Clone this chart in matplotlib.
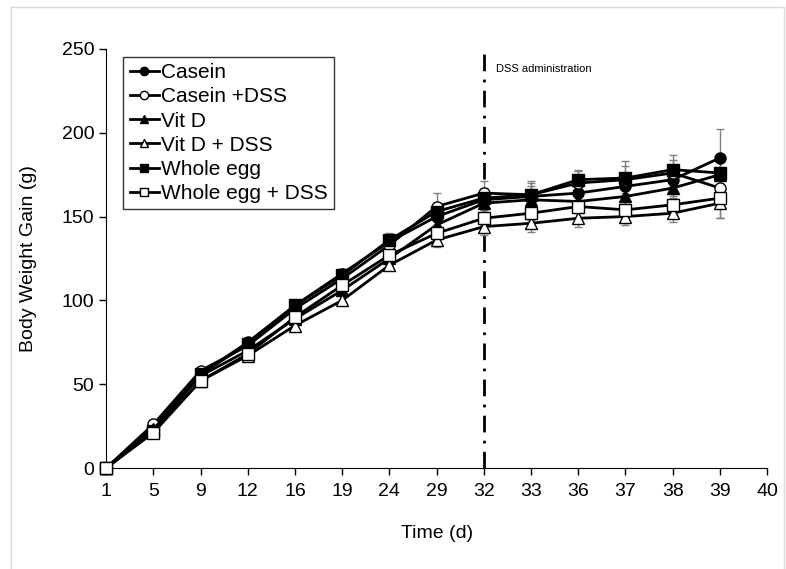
import matplotlib.pyplot as plt
import matplotlib.lines as mlines
import numpy as np

plt.rcParams['font.family'] = ['Liberation Sans', 'DejaVu Sans']

days = ['1', '5', '9', '12', '16', '19', '24', '29', '32', '33', '36', '37', '38', '39', '40']

casein = [0, 24, 56, 75, 97, 116, 135, 150, 160, 162, 164, 168, 172, 185]
casein_dss = [0, 26, 58, 73, 95, 113, 133, 156, 164, 163, 170, 172, 176, 167]
vitd = [0, 23, 55, 70, 89, 106, 125, 145, 158, 160, 159, 162, 167, 175]
vitd_dss = [0, 22, 52, 67, 85, 100, 121, 136, 144, 146, 149, 150, 152, 158]
whole_egg = [0, 22, 56, 74, 97, 115, 136, 153, 161, 163, 172, 173, 178, 176]
whole_egg_dss = [0, 21, 52, 68, 90, 109, 127, 140, 149, 152, 156, 154, 157, 161]

casein_err = [0, 2, 2, 2, 3, 3, 4, 6, 6, 6, 6, 7, 8, 17]
casein_dss_err = [0, 2, 2, 3, 3, 3, 4, 8, 7, 7, 7, 8, 8, 10]
vitd_err = [0, 2, 2, 2, 3, 3, 4, 5, 5, 5, 6, 6, 6, 8]
vitd_dss_err = [0, 2, 2, 2, 3, 3, 3, 4, 5, 5, 5, 5, 5, 9]
whole_egg_err = [0, 2, 2, 2, 3, 4, 4, 5, 6, 8, 6, 10, 9, 8]
whole_egg_dss_err = [0, 2, 2, 2, 3, 3, 3, 4, 4, 4, 4, 5, 5, 12]

series = [
    ("Casein", casein, casein_err, 'o', 'black'),
    ("Casein +DSS", casein_dss, casein_dss_err, 'o', 'white'),
    ("Vit D", vitd, vitd_err, '^', 'black'),
    ("Vit D + DSS", vitd_dss, vitd_dss_err, '^', 'white'),
    ("Whole egg", whole_egg, whole_egg_err, 's', 'black'),
    ("Whole egg + DSS", whole_egg_dss, whole_egg_dss_err, 's', 'white'),
]

fig = plt.figure(figsize=(7.86, 5.69), dpi=100)
ax = fig.add_axes([0.135, 0.1775, 0.841, 0.7365])

# light gray frame around the picture
fig.add_artist(mlines.Line2D([11/786, 11/786], [0, 1 - 7/569], color='#d9d9d9', lw=1))
fig.add_artist(mlines.Line2D([11/786, 784/786], [1 - 7/569, 1 - 7/569], color='#d9d9d9', lw=1))
fig.add_artist(mlines.Line2D([784/786, 784/786], [0, 1 - 7/569], color='#d9d9d9', lw=1))

x = np.arange(len(casein))
handles = []
for name, vals, err, m, fc in series:
    ax.errorbar(x, vals, yerr=err, fmt='none', ecolor='#808080', elinewidth=1,
                capsize=3, capthick=1, zorder=2)
for name, vals, err, m, fc in series:
    ms = 8.5 if m == '^' else 8
    h, = ax.plot(x, vals, color='black', lw=2, marker=m, markersize=ms,
                 markerfacecolor=fc, markeredgecolor='black', markeredgewidth=1,
                 label=name, zorder=3, clip_on=False)
    handles.append(h)

ax.axvline(8, color='black', lw=2, linestyle=(0, (6, 3, 1, 3)), zorder=1)
ax.text(8.25, 238, "DSS administration", fontsize=8, va='center', ha='left')

ax.set_xlim(0, len(days) - 1)
ax.set_ylim(0, 250)
ax.set_xticks(np.arange(len(days)))
ax.set_xticklabels(days)
ax.set_yticks([0, 50, 100, 150, 200, 250])
ax.tick_params(axis='both', labelsize=14, direction='out', length=5, width=1)
ax.tick_params(axis='x', pad=6)
ax.spines['top'].set_visible(False)
ax.spines['right'].set_visible(False)
ax.set_xlabel("Time (d)", fontsize=14, labelpad=18)
ax.set_ylabel("Body Weight Gain (g)", fontsize=14, labelpad=18)

leg = ax.legend(handles=handles, loc='upper left', bbox_to_anchor=(0.026, 0.981),
                borderaxespad=0, fontsize=15, frameon=True, fancybox=False,
                handlelength=1.4, handletextpad=0.1, labelspacing=0.25,
                borderpad=0.3, markerscale=0.75)
leg.get_frame().set_edgecolor('black')
leg.get_frame().set_linewidth(1)

plt.savefig("out.png", dpi=100)
